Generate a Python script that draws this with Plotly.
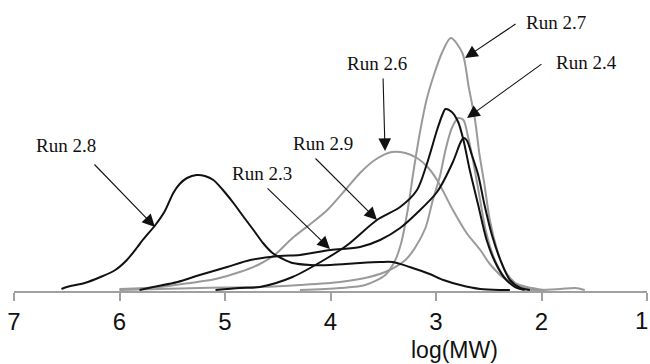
import plotly.graph_objects as go

# ---- data: log(MW) and detector response (arbitrary units) ----
run28_x = [6.55, 6.50, 6.33, 6.18, 6.04, 5.93, 5.83, 5.78, 5.66, 5.57, 5.49, 5.43, 5.36, 5.27, 5.19, 5.11,
           5.02, 4.92, 4.83, 4.73, 4.64, 4.55, 4.45, 4.36, 4.19, 4.00, 3.72, 3.53, 3.41, 3.25, 3.06, 2.93,
           2.77, 2.58, 2.39, 2.30]
run28_y = [2, 4, 8, 14, 21, 31, 44, 51, 66, 80, 98, 107, 113, 116, 115, 111,
           101, 88, 75, 61, 48, 38, 32, 28, 26, 26, 28, 29, 29, 24, 17, 11,
           6, 2, 1, 1]

run23_x = [5.81, 5.68, 5.45, 5.24, 4.98, 4.76, 4.48, 4.29, 4.00, 3.72, 3.53, 3.34, 3.18, 2.99, 2.84, 2.77,
           2.74, 2.71, 2.66, 2.60, 2.54, 2.47, 2.39, 2.30, 2.20, 2.11]
run23_y = [1, 4, 9, 16, 24, 31, 35, 36, 41, 44, 51, 63, 78, 99, 129, 148,
           153, 151, 136, 116, 86, 56, 31, 11, 3, 1]

run29_x = [5.09, 4.86, 4.67, 4.36, 4.03, 3.84, 3.56, 3.34, 3.18, 3.09, 2.99, 2.94, 2.91, 2.85, 2.79, 2.74,
           2.68, 2.60, 2.52, 2.44, 2.35, 2.25, 2.16]
run29_y = [1, 3, 4, 14, 33, 46, 71, 84, 101, 126, 161, 176, 182, 179, 169, 151,
           121, 86, 51, 29, 13, 4, 1]

run26_x = [6.00, 5.62, 5.33, 5.09, 4.86, 4.67, 4.53, 4.36, 4.19, 4.03, 3.86, 3.72, 3.58, 3.42, 3.29, 3.18,
           3.08, 2.99, 2.84, 2.71, 2.58, 2.49, 2.33, 2.14, 1.97]
run26_y = [2, 4, 8, 12, 19, 27, 36, 53, 67, 81, 101, 118, 131, 139, 138, 133,
           124, 111, 81, 58, 41, 27, 11, 4, 1]

run27_x = [4.29, 3.91, 3.67, 3.48, 3.39, 3.33, 3.27, 3.21, 3.15, 3.09, 3.02, 2.94, 2.86, 2.75, 2.69, 2.63,
           2.59, 2.54, 2.49, 2.42, 2.35, 2.25, 2.13, 1.97]
run27_y = [1, 3, 6, 16, 30, 48, 80, 122, 160, 191, 216, 239, 253, 238, 204, 171,
           138, 106, 71, 41, 21, 8, 2, 1]

run24_x = [6.00, 5.24, 4.67, 4.29, 3.91, 3.63, 3.44, 3.29, 3.20, 3.10, 3.03, 2.96, 2.91, 2.85, 2.79, 2.74,
           2.70, 2.65, 2.59, 2.53, 2.45, 2.36, 2.27, 2.16, 2.01, 1.82, 1.68, 1.59]
run24_y = [1, 3, 4, 6, 9, 14, 21, 31, 43, 63, 91, 116, 141, 163, 173, 171,
           156, 131, 96, 61, 33, 15, 6, 2, 1, 2, 3, 1]

tick_vals = [7, 6, 5, 4, 3, 2, 1]
tick_text = ["7", "6", "5", "4", "3", "2", ""]
edge_tick_text = "1"   # last tick label, kept inside the page edge

# label text, label position, arrow tail, arrow tip (log(MW), response)
labels = ["Run 2.7", "Run 2.4", "Run 2.6", "Run 2.9", "Run 2.3", "Run 2.8"]
label_x = [1.863, 1.578, 3.559, 4.071, 4.649, 6.507]
label_y = [269, 229, 228, 148, 118, 146]
tail_x = [2.232, 1.986, 3.502, 4.156, 4.611, 6.251]
tail_y = [268, 228, 214, 134, 104, 128]
tip_x = [2.725, 2.706, 3.483, 3.559, 4.005, 5.664]
tip_y = [233, 173, 140, 71, 42, 64]

BLACK = "#111111"
GRAY = "#9a9a9a"

fig = go.Figure()
series = [
    (run26_x, run26_y, GRAY),
    (run27_x, run27_y, GRAY),
    (run24_x, run24_y, GRAY),
    (run28_x, run28_y, BLACK),
    (run23_x, run23_y, BLACK),
    (run29_x, run29_y, BLACK),
]
for xs, ys, col in series:
    fig.add_trace(go.Scatter(x=xs, y=ys, mode="lines",
                             line=dict(color=col, width=2, shape="spline", smoothing=0.8),
                             showlegend=False, hoverinfo="skip"))

annotations = []
for i in range(len(labels)):
    annotations.append(dict(
        x=tip_x[i], y=tip_y[i], xref="x", yref="y",
        ax=tail_x[i], ay=tail_y[i], axref="x", ayref="y",
        text="", showarrow=True, arrowhead=2, arrowsize=2.3,
        arrowwidth=1.1, arrowcolor="#111111", standoff=0, startstandoff=0))
    annotations.append(dict(
        x=label_x[i], y=label_y[i], xref="x", yref="y",
        text=labels[i], showarrow=False, xanchor="center", yanchor="middle",
        font=dict(family="Liberation Serif", size=19, color="#111111")))

annotations.append(dict(
    x=2.829, y=-0.203, xref="x", yref="paper", text="log(MW)", showarrow=False,
    xanchor="center", yanchor="middle",
    font=dict(family="Liberation Sans", size=23, color="#111111")))

annotations.append(dict(
    x=1.004, y=-0.103, xref="paper", yref="paper", text=edge_tick_text, showarrow=False,
    xanchor="right", yanchor="middle",
    font=dict(family="Liberation Sans", size=24, color="#111111")))

fig.update_layout(
    width=650, height=364,
    margin=dict(l=14, r=3, t=0, b=73, autoexpand=False),
    paper_bgcolor="white", plot_bgcolor="white",
    annotations=annotations,
    xaxis=dict(range=[7, 1], tickvals=tick_vals, ticktext=tick_text,
               showline=True, linecolor="#a0a0a0", linewidth=1.5,
               ticks="outside", ticklen=8, tickwidth=1.5, tickcolor="#a0a0a0",
               showgrid=False, zeroline=False, automargin=False,
               ticklabeloverflow="allow",
               tickfont=dict(family="Liberation Sans", size=24, color="#111111")),
    yaxis=dict(range=[0, 291], visible=False, showgrid=False, zeroline=False),
)

fig.write_html("out.html")
